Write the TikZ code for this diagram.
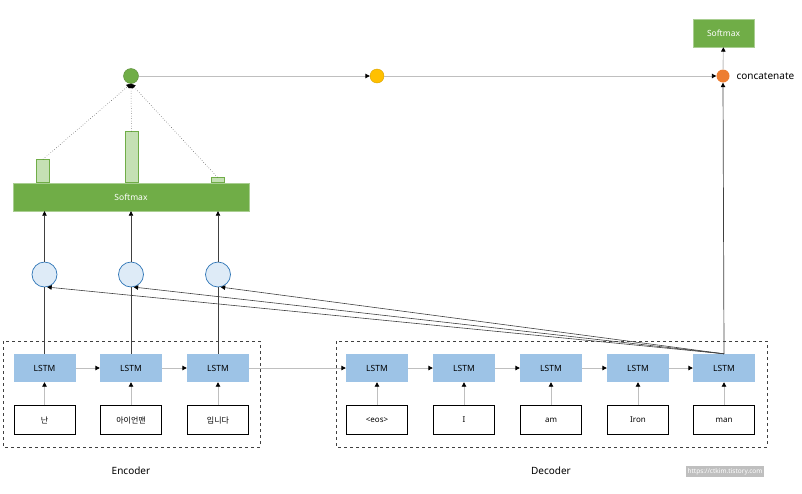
\documentclass[tikz,border=0pt]{standalone}
\usepackage{fontspec}
\setmainfont{Noto Sans}
\newfontfamily\krfont{Noto Sans CJK KR}
\usetikzlibrary{arrows.meta}
\definecolor{lstmblue}{HTML}{9DC3E6}
\definecolor{sgreen}{HTML}{70AD47}
\definecolor{bargreen}{HTML}{C5E0B4}
\definecolor{circblue}{HTML}{DEEBF7}
\definecolor{circedge}{HTML}{2E75B6}
\definecolor{lgray}{HTML}{BFBFBF}
\definecolor{dgray}{HTML}{404040}
\definecolor{yel}{HTML}{FFC000}
\definecolor{ora}{HTML}{ED7D31}
\tikzset{
  lstm/.style={fill=lstmblue, minimum width=62pt, minimum height=28pt, inner sep=0pt, font=\fontsize{8.5}{10}\selectfont},
  inbox/.style={draw=black, line width=0.9pt, fill=white, minimum width=61pt, minimum height=29pt, inner sep=0pt, font=\fontsize{8}{10}\selectfont},
  tip/.style={-{Triangle[length=4.5pt,width=4.5pt,color=black]}},
  larr/.style={draw=lgray, line width=0.9pt, tip},
  darr/.style={draw=dgray, line width=0.7pt, tip},
  attc/.style={circle, draw=circedge, line width=0.7pt, fill=circblue, minimum size=25pt, inner sep=0pt},
  smbox/.style={fill=sgreen, draw=sgreen!60, text=white, inner sep=0pt, font=\fontsize{8.5}{10}\selectfont},
  bar/.style={draw=sgreen, line width=0.7pt, fill=bargreen, minimum width=13pt, inner sep=0pt, anchor=south},
  dot/.style={circle, inner sep=0pt},
  grp/.style={draw=dgray, dashed, line width=0.7pt},
  lab/.style={font=\fontsize{10}{12}\selectfont}
}
\begin{document}
\begin{tikzpicture}[x=1pt,y=-1pt]
\useasboundingbox (0,0) rectangle (802,493);
% group boxes
\draw[grp] (3,341) rectangle (260,447);
\draw[grp] (336,341) rectangle (767,447);
\node[lab] (enclab) at (131,471) {Encoder};
\node[lab] (declab) at (551,471) {Decoder};
\node[fill=lgray, text=white, inner sep=2pt, font=\fontsize{6.5}{7}\selectfont] (wm) at (725,471.5) {https://ctkim.tistory.com};
% encoder
\node[lstm] (e1) at (44.5,368) {LSTM};
\node[lstm] (e2) at (131,368) {LSTM};
\node[lstm] (e3) at (218,368) {LSTM};
\node[inbox] (i1) at (44.5,420) {\krfont 난};
\node[inbox] (i2) at (131,420) {\krfont 아이언맨};
\node[inbox] (i3) at (218,420) {\krfont 입니다};
% decoder
\node[lstm] (d1) at (377,368) {LSTM};
\node[lstm] (d2) at (464,368) {LSTM};
\node[lstm] (d3) at (551,368) {LSTM};
\node[lstm] (d4) at (638,368) {LSTM};
\node[lstm] (d5) at (724,368) {LSTM};
\node[inbox] (j1) at (377,420) {<eos>};
\node[inbox] (j2) at (464,420) {I};
\node[inbox] (j3) at (551,420) {am};
\node[inbox] (j4) at (638,420) {Iron};
\node[inbox] (j5) at (724,420) {man};
% attention circles
\node[attc] (c1) at (44.5,274.5) {};
\node[attc] (c2) at (131,274.5) {};
\node[attc] (c3) at (218,274.5) {};
% softmax bar
\node[smbox, minimum width=236pt, minimum height=28pt] (s1) at (131,197) {Softmax};
\node[bar, minimum height=23pt] (b1) at (43,183) {};
\node[bar, minimum height=51pt] (b2) at (131.5,183) {};
\node[bar, minimum height=5pt] (b3) at (217.5,183) {};
% top row
\node[dot, fill=sgreen, draw=sgreen!80!black, line width=0.4pt, minimum size=15pt] (g) at (131,76) {};
\node[smbox, minimum width=61pt, minimum height=28pt] (s2) at (723.5,33) {Softmax};
% connectors
\foreach \k in {1,2,3}{
  \draw[larr] (i\k) -- (e\k);
  \draw[dgray, line width=0.7pt] (e\k) -- (c\k);
  \draw[darr] (c\k.north) -- (c\k.north |- s1.south);
}
\foreach \k in {1,...,5}{ \draw[larr] (j\k) -- (d\k); }
\draw[larr] (e1) -- (e2);
\draw[larr] (e2) -- (e3);
\draw[larr] (e3) -- (d1);
\draw[larr] (d1) -- (d2);
\draw[larr] (d2) -- (d3);
\draw[larr] (d3) -- (d4);
\draw[larr] (d4) -- (d5);
\foreach \k in {1,2,3}{
  \draw[draw=dgray, line width=0.6pt, tip] (d5.north) -- (c\k.-78);
  \draw[draw=dgray, line width=0.5pt, dotted, tip] (b\k.north) -- (g.south);
}
\node[dot, fill=yel, draw=yel!85!black, line width=0.4pt, minimum size=14pt] (y) at (377,76) {};
\node[dot, fill=ora, minimum size=13pt] (o) at (723,76) {};
\node[anchor=west, font=\fontsize{10}{12}\selectfont] (conc) at (733,76) {concatenate};
\draw[larr] (g) -- (y);
\draw[larr] (y) -- (o);
\draw[darr] (d5.north) -- (o.south);
\draw[larr] (o) -- (s2);
\end{tikzpicture}
\end{document}
